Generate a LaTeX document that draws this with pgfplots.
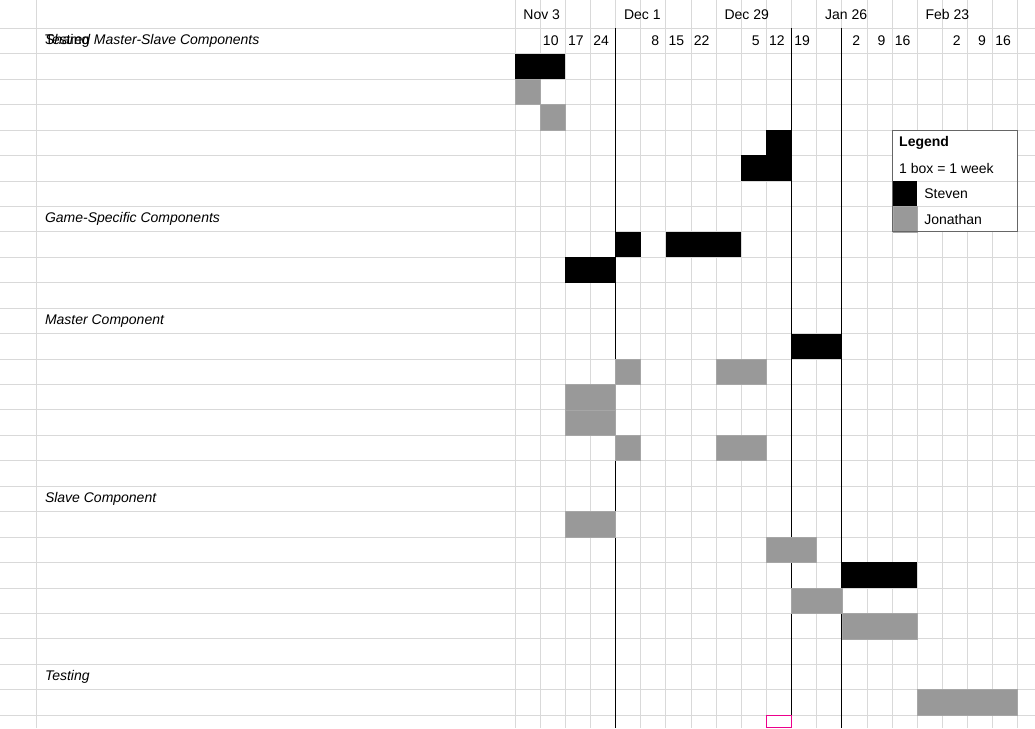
\documentclass[border=0pt]{standalone}
\usepackage{pgfplots}
\pgfplotsset{compat=1.18}
\usepackage{fontspec}
\setmainfont{Liberation Sans}
\definecolor{gridc}{HTML}{D9D9D9}
\definecolor{barg}{HTML}{999999}
\newcommand\blk[4]{\addplot[fill=black,draw=none] coordinates {(#1,#3)(#2,#3)(#2,#4)(#1,#4)} -- cycle;}
\newcommand\gry[4]{\addplot[fill=barg,draw=gray!70,line width=0.3pt] coordinates {(#1,#3)(#2,#3)(#2,#4)(#1,#4)} -- cycle;}
\begin{document}
\begin{tikzpicture}
\begin{axis}[scale only axis, width=776.25pt, height=546pt, hide axis, clip=false,
  xmin=-20.477, xmax=20.676, ymin=-1.1, ymax=27.505, y dir=reverse]
% grid
\pgfplotsinvokeforeach{0,...,27}{\draw[gridc,line width=0.5pt] (axis cs:-20.477,#1) -- (axis cs:20.676,#1);}
\pgfplotsinvokeforeach{0,...,20}{\draw[gridc,line width=0.5pt] (axis cs:#1,-1.1) -- (axis cs:#1,27.505);}
\draw[gridc,line width=0.5pt] (axis cs:-19.046,-1.1) -- (axis cs:-19.046,27.505);
% major lines
\draw[black,line width=0.6pt] (axis cs:4,0) -- (axis cs:4,27.505);
\draw[black,line width=0.6pt] (axis cs:11,0) -- (axis cs:11,27.505);
\draw[black,line width=0.6pt] (axis cs:13,0) -- (axis cs:13,27.505);
% headers
\pgfplotsforeachungrouped \c/\t in {0/Nov 3,4/Dec 1,8/Dec 29,12/Jan 26,16/Feb 23}{\edef\tmp{\noexpand\node[anchor=west,font=\noexpand\fontsize{10.5}{12}\noexpand\selectfont] at (axis cs:\c.15,-0.55) {\t};}\tmp}
\pgfplotsforeachungrouped \c/\t in {1/10,2/17,3/24,5/8,6/15,7/22,9/5,10/12,11/19,13/2,14/9,15/16,17/2,18/9,19/16}{\edef\tmp{\noexpand\node[anchor=east,font=\noexpand\fontsize{10.5}{12}\noexpand\selectfont] at (axis cs:\c.92,0.5) {\t};}\tmp}
% rows
\pgfplotsforeachungrouped \r/\t in {0/Shared Master-Slave Components,7/Game-Specific Components,11/Master Component,18/Slave Component,25/Testing}{\edef\tmp{\noexpand\node[anchor=west,font=\noexpand\fontsize{10.5}{12}\noexpand\selectfont\noexpand\itshape] at (axis cs:-18.887,\r.5) {\t};}\tmp}
\pgfplotsforeachungrouped \r/\n/\t in {1/1/Implement un-optimized minimax algorithm,2/2/Design master-slave protocol,3/3/Design game state serialization,4/4/Implement game state serialization,5/5/Generalize master-slave components over multiple games,8/6/Implement Checkers game logic,9/7/Implement Tic Tac Toe game logic,12/8/Design user-facing API,13/9/Implement job pool creation,14/10/Implement job allocation algorithm,15/11/Implement master-side of master-slave protocol,16/12/Implement analysis result consolidation,19/13/Implement slave-side of master-slave protocol,20/14/Implement slave-side alpha-beta pruning,21/15/Implement slave-side work deduplication,22/16/Implement time-limited Minimax,23/17/Implement slave-side concurrency,26/18/{Check objectives/constraints, run validation tests}}{
  \edef\tmp{\noexpand\node[anchor=east,font=\noexpand\fontsize{10.5}{12}\noexpand\selectfont] at (axis cs:-19.165,\r.5) {\n};
  \noexpand\node[anchor=west,font=\noexpand\fontsize{10.5}{12}\noexpand\selectfont] at (axis cs:-18.887,\r.5) {\t};}\tmp}
% bars
\blk{0}{2}{1}{2}
\gry{0}{1}{2}{3}
\gry{1}{2}{3}{4}
\blk{10}{11}{4}{5}
\blk{9}{11}{5}{6}
\blk{4}{5}{8}{9}
\blk{6}{9}{8}{9}
\blk{2}{4}{9}{10}
\blk{11}{13}{12}{13}
\gry{4}{5}{13}{14}
\gry{8}{10}{13}{14}
\gry{2}{4}{14}{15}
\gry{2}{4}{15}{16}
\gry{4}{5}{16}{17}
\gry{8}{10}{16}{17}
\gry{2}{4}{19}{20}
\gry{10}{12}{20}{21}
\blk{13}{16}{21}{22}
\gry{11}{13}{22}{23}
\gry{13}{16}{23}{24}
\gry{16}{20}{26}{27}
% legend
\fill[white] (axis cs:15.03,4) rectangle (axis cs:20,8);
\draw[gridc] (axis cs:15.03,6) -- (axis cs:20,6);
\draw[gridc] (axis cs:15.03,7) -- (axis cs:20,7);
\blk{15.03}{16}{6}{7}
\gry{15.03}{16}{7}{8}
\draw[gray!80!black,line width=0.6pt] (axis cs:15.03,4) rectangle (axis cs:20,8);
\node[anchor=west,font=\fontsize{10.5}{12}\selectfont\bfseries] at (axis cs:15.1,4.5) {Legend};
\node[anchor=west,font=\fontsize{10.5}{12}\selectfont] at (axis cs:15.1,5.5) {1 box {=} 1 week};
\node[anchor=west,font=\fontsize{10.5}{12}\selectfont] at (axis cs:16.1,6.5) {Steven};
\node[anchor=west,font=\fontsize{10.5}{12}\selectfont] at (axis cs:16.1,7.5) {Jonathan};
\draw[magenta,line width=1pt] (axis cs:10,27.03) rectangle (axis cs:11,27.5);
\end{axis}
\end{tikzpicture}
\end{document}
